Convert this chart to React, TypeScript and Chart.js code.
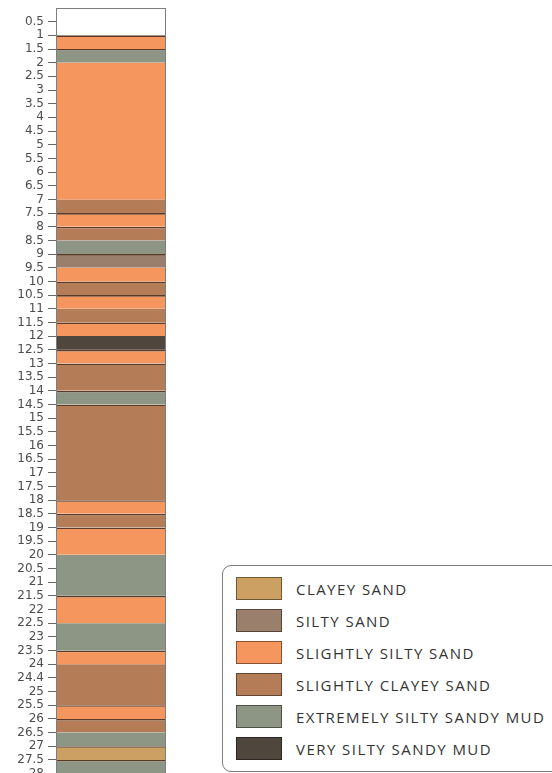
import { useEffect, useRef } from 'react';
import { Chart, registerables } from 'chart.js';

Chart.register(...registerables);

// Sediment classes, in legend order, with their fill colours
const sedimentTypes = [
  'CLAYEY SAND',
  'SILTY SAND',
  'SLIGHTLY SILTY SAND',
  'SLIGHTLY CLAYEY SAND',
  'EXTREMELY SILTY SANDY MUD',
  'VERY SILTY SANDY MUD',
];
const sedimentColors = ['#cba062', '#9b7f6d', '#f4965e', '#b57c58', '#8d9585', '#4f463d'];

// Core intervals (depth in m): top, base, class index, and whether a contact line is drawn at the top
const layerTop = [1, 1.5, 2, 7, 7.5, 8, 8.5, 9, 9.5, 10, 10.5, 11, 11.5, 12, 12.5, 13, 14, 14.5, 18, 18.5, 19, 20, 21.5, 22.5, 23.5, 24, 25.5, 26, 26.5, 27, 27.5];
const layerBase = [1.5, 2, 7, 7.5, 8, 8.5, 9, 9.5, 10, 10.5, 11, 11.5, 12, 12.5, 13, 14, 14.5, 18, 18.5, 19, 20, 21.5, 22.5, 23.5, 24, 25.5, 26, 26.5, 27, 27.5, 28];
const layerType = [2, 4, 2, 3, 2, 3, 4, 1, 2, 3, 2, 3, 2, 5, 2, 3, 4, 3, 2, 3, 2, 4, 2, 4, 2, 3, 2, 3, 4, 0, 4];
const contactLine = [1, 1, 0, 0, 1, 1, 0, 1, 0, 1, 1, 0, 1, 0, 1, 1, 1, 1, 1, 1, 1, 0, 1, 0, 1, 0, 1, 1, 0, 1, 1];

// Depth axis ticks and their printed labels
const tickDepths = [
  0.5, 1, 1.5, 2, 2.5, 3, 3.5, 4, 4.5, 5, 5.5, 6, 6.5, 7, 7.5, 8, 8.5, 9, 9.5, 10,
  10.5, 11, 11.5, 12, 12.5, 13, 13.5, 14, 14.5, 15, 15.5, 16, 16.5, 17, 17.5, 18, 18.5, 19, 19.5, 20,
  20.5, 21, 21.5, 22, 22.5, 23, 23.5, 24, 24.5, 25, 25.5, 26, 26.5, 27, 27.5, 28,
];
const tickLabels = [
  '0.5', '1', '1.5', '2', '2.5', '3', '3.5', '4', '4.5', '5', '5.5', '6', '6.5', '7', '7.5', '8', '8.5', '9', '9.5', '10',
  '10.5', '11', '11.5', '12', '12.5', '13', '13.5', '14', '14.5', '15', '15.5', '16', '16.5', '17', '17.5', '18', '18.5', '19', '19.5', '20',
  '20.5', '21', '21.5', '22', '22.5', '23', '23.5', '24', '24.4', '25', '25.5', '26', '26.5', '27', '27.5', '28',
];

const FRAME = '#7d7d7d';
const CONTACT = '#5b3b27';

function CoreLog() {
  const ref = useRef<HTMLCanvasElement | null>(null);

  useEffect(() => {
    if (!ref.current) return;
    const datasets = layerTop.map((top, i) => ({
      label: sedimentTypes[layerType[i]],
      data: [[top, layerBase[i]]] as any,
      backgroundColor: sedimentColors[layerType[i]],
      borderColor: CONTACT,
      borderWidth: contactLine[i] ? { top: 1.6, right: 0, bottom: 0, left: 0 } : 0,
      borderSkipped: false as const,
      grouped: false,
      barPercentage: 1,
      categoryPercentage: 1,
      inflateAmount: 0,
    }));

    const chart = new Chart(ref.current, {
      type: 'bar',
      data: { labels: [''], datasets },
      options: {
        animation: false,
        responsive: false,
        layout: { padding: { top: 8, left: 0, right: 15, bottom: 16.4 } },
        plugins: { legend: { display: false }, tooltip: { enabled: false } },
        scales: {
          x: {
            type: 'category',
            position: 'top',
            ticks: { display: false },
            grid: { display: false },
            border: { display: true, color: FRAME, width: 1, z: 1 },
            afterFit(s: any) {
              s.height = 0;
              s.paddingLeft = 0;
              s.paddingRight = 0;
            },
          },
          y: {
            type: 'linear',
            position: 'left',
            reverse: true,
            min: 0,
            max: 28,
            afterBuildTicks(s: any) {
              s.ticks = tickDepths.map((v) => ({ value: v }));
            },
            ticks: {
              autoSkip: false,
              padding: 4,
              color: '#4d4d4d',
              font: { family: 'DejaVu Sans', size: 12 },
              callback: (v: any) => {
                const k = tickDepths.indexOf(Number(v));
                return k >= 0 ? tickLabels[k] : '';
              },
            },
            grid: { drawOnChartArea: false, drawTicks: true, tickLength: 8, color: '#666', z: 1 },
            border: { display: true, color: FRAME, width: 1, z: 1 },
            afterFit(s: any) {
              s.width = 56;
              s.paddingTop = 0;
              s.paddingBottom = 0;
            },
          },
          yr: {
            type: 'linear',
            position: 'right',
            reverse: true,
            min: 0,
            max: 28,
            ticks: { display: false },
            grid: { display: false },
            border: { display: true, color: FRAME, width: 1, z: 1 },
            afterFit(s: any) {
              s.width = 0;
              s.paddingTop = 0;
              s.paddingBottom = 0;
            },
          },
        },
      } as any,
    });
    return () => chart.destroy();
  }, []);

  return (
    <canvas
      ref={ref}
      width={180}
      height={790}
      style={{ position: 'absolute', left: 0, top: 0, width: 180, height: 790 }}
    />
  );
}

function Legend() {
  return (
    <div
      style={{
        position: 'absolute',
        left: 222,
        top: 565,
        width: 360,
        height: 207,
        border: `1px solid ${FRAME}`,
        borderRadius: 9,
        boxSizing: 'border-box',
        background: '#fff',
      }}
    >
      {sedimentTypes.map((name, i) => (
        <div
          key={name}
          style={{
            position: 'absolute',
            left: 13,
            top: 11 + i * 32,
            height: 23,
            display: 'flex',
            alignItems: 'center',
          }}
        >
          <span
            style={{
              display: 'inline-block',
              width: 46,
              height: 23,
              background: sedimentColors[i],
              border: '1px solid rgba(0,0,0,0.45)',
              boxSizing: 'border-box',
            }}
          />
          <span
            style={{
              marginLeft: 14,
              fontFamily: '"Open Sans", sans-serif',
              fontSize: 15,
              letterSpacing: 1.45,
              color: '#333',
              whiteSpace: 'nowrap',
            }}
          >
            {name}
          </span>
        </div>
      ))}
    </div>
  );
}

export default function App() {
  return (
    <div
      style={{
        position: 'fixed',
        left: 0,
        top: 0,
        width: 552,
        height: 773,
        overflow: 'hidden',
        background: '#fff',
      }}
    >
      <CoreLog />
      <Legend />
    </div>
  );
}
